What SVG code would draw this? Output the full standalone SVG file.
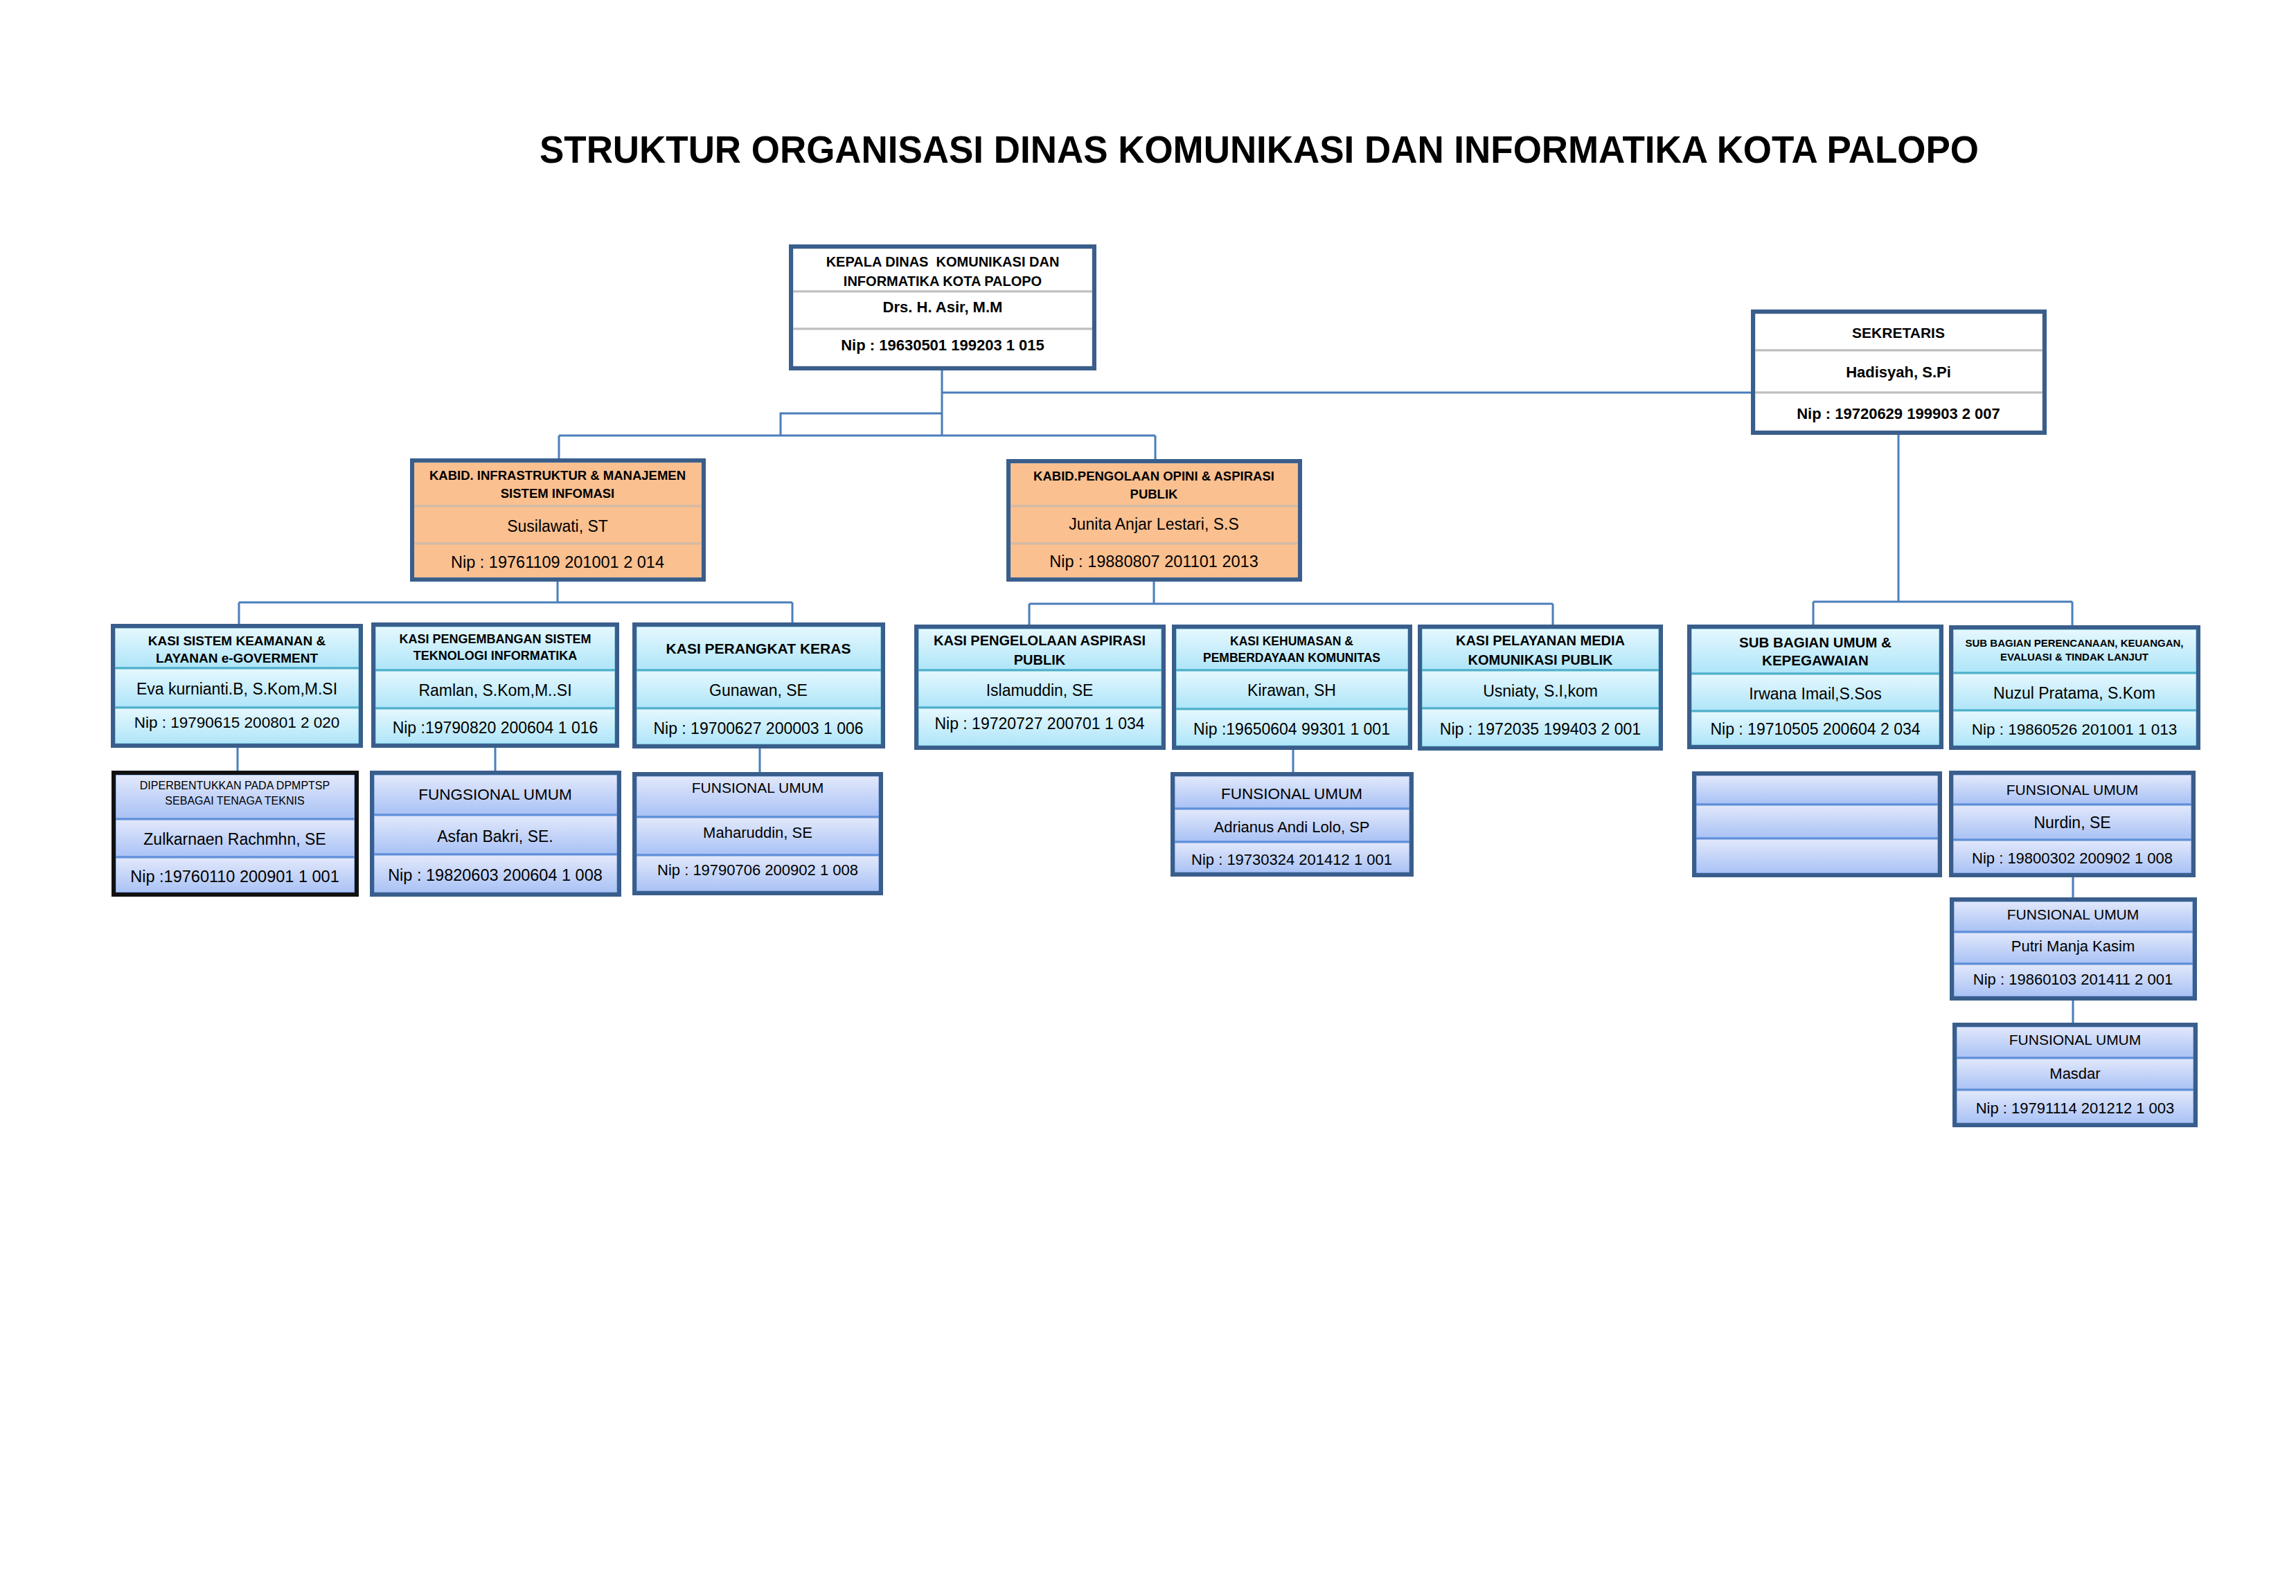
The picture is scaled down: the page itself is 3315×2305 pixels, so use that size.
<svg xmlns="http://www.w3.org/2000/svg" width="3315" height="2305" viewBox="0 0 3315 2305">
<style>
text{font-family:'Liberation Sans',Arial,sans-serif;text-anchor:middle;fill:#000}
.b{font-weight:bold}
.ob{fill:none;stroke:#3a5e8c;stroke-width:6}
.ok{fill:none;stroke:#111;stroke-width:6}
.rw{fill:#fff;stroke:#bfbfbf;stroke-width:3}
.ro{fill:#fac090;stroke:#d2b9a6;stroke-width:3}
.rc{fill:url(#gc);stroke:#4fb0ca;stroke-width:3}
.rb{fill:url(#gb);stroke:#5f8fd8;stroke-width:3}
.cn{fill:none;stroke:#4a7ebb;stroke-width:3}
</style>
<defs>
<linearGradient id="gc" x1="0" y1="0" x2="0" y2="1"><stop offset="0" stop-color="#e6f8fe"/><stop offset="1" stop-color="#aee5f9"/></linearGradient>
<linearGradient id="gb" x1="0" y1="0" x2="0" y2="1"><stop offset="0" stop-color="#e3e9fb"/><stop offset="1" stop-color="#a8c1f5"/></linearGradient>
</defs>
<rect width="3315" height="2305" fill="#fff"/>
<text x="1818" y="235" class="b" font-size="56" textLength="2078" lengthAdjust="spacingAndGlyphs">STRUKTUR ORGANISASI DINAS KOMUNIKASI DAN INFORMATIKA KOTA PALOPO</text>

<g id="connectors">
<path class="cn" d="M1360 535V629M1360 567H2528M1360 597H1127V629M807 629H1668M807 629V662M1668 629V663"/>
<path class="cn" d="M805 840V870M345 870H1144M345 870V901M1144 870V899"/>
<path class="cn" d="M1666 840V872M1486 872H2242M1486 872V902M2242 872V902"/>
<path class="cn" d="M2741 628V869M2618 869H2992M2618 869V902M2992 869V903"/>
<path class="cn" d="M343 1080V1113M715 1080V1113M1097 1081V1115M1867 1083V1115M2993 1267V1296M2993 1445V1477"/>
</g>

<g id="kepala">
<rect class="rw" x="1144" y="358" width="434" height="63"/><rect class="rw" x="1144" y="421" width="434" height="54"/><rect class="rw" x="1144" y="475" width="434" height="55"/>
<rect class="ob" x="1142" y="356" width="438" height="176"/>
<text x="1361" y="385" class="b" font-size="20" xml:space="preserve">KEPALA DINAS  KOMUNIKASI DAN</text>
<text x="1361" y="413" class="b" font-size="20">INFORMATIKA KOTA PALOPO</text>
<text x="1361" y="451" class="b" font-size="22">Drs. H. Asir, M.M</text>
<text x="1361" y="506" class="b" font-size="22">Nip : 19630501 199203 1 015</text>
</g>

<g id="sekretaris">
<rect class="rw" x="2533" y="452" width="417" height="54"/><rect class="rw" x="2533" y="506" width="417" height="61"/><rect class="rw" x="2533" y="567" width="417" height="56"/>
<rect class="ob" x="2531" y="450" width="421" height="175"/>
<text x="2741" y="488" class="b" font-size="21">SEKRETARIS</text>
<text x="2741" y="545" class="b" font-size="22">Hadisyah, S.Pi</text>
<text x="2741" y="605" class="b" font-size="22">Nip : 19720629 199903 2 007</text>
</g>

<g id="kabid-infra">
<rect class="ro" x="597" y="667" width="417" height="64"/><rect class="ro" x="597" y="731" width="417" height="54"/><rect class="ro" x="597" y="785" width="417" height="50"/>
<rect class="ob" x="595" y="665" width="421" height="172"/>
<text x="805" y="693" class="b" font-size="18.5">KABID. INFRASTRUKTUR &amp; MANAJEMEN</text>
<text x="805" y="719" class="b" font-size="18.5">SISTEM INFOMASI</text>
<text x="805" y="768" font-size="23">Susilawati, ST</text>
<text x="805" y="820" font-size="23.5">Nip : 19761109 201001 2 014</text>
</g>

<g id="kabid-opini">
<rect class="ro" x="1458" y="668" width="417" height="63"/><rect class="ro" x="1458" y="731" width="417" height="54"/><rect class="ro" x="1458" y="785" width="417" height="50"/>
<rect class="ob" x="1456" y="666" width="421" height="171"/>
<text x="1666" y="694" class="b" font-size="18.5">KABID.PENGOLAAN OPINI &amp; ASPIRASI</text>
<text x="1666" y="720" class="b" font-size="18.5">PUBLIK</text>
<text x="1666" y="765" font-size="23">Junita Anjar Lestari, S.S</text>
<text x="1666" y="819" font-size="23.5">Nip : 19880807 201101 2013</text>
</g>

<g id="kasi-keamanan">
<rect class="rc" x="165" y="906" width="354" height="59"/><rect class="rc" x="165" y="965" width="354" height="57"/><rect class="rc" x="165" y="1022" width="354" height="53"/>
<rect class="ob" x="163" y="904" width="358" height="173"/>
<text x="342" y="932" class="b" font-size="19">KASI SISTEM KEAMANAN &amp;</text>
<text x="342" y="957" class="b" font-size="19">LAYANAN e-GOVERMENT</text>
<text x="342" y="1003" font-size="23">Eva kurnianti.B, S.Kom,M.SI</text>
<text x="342" y="1051" font-size="22.5">Nip : 19790615 200801 2 020</text>
</g>

<g id="kasi-pengembangan">
<rect class="rc" x="541" y="904" width="348" height="64"/><rect class="rc" x="541" y="968" width="348" height="55"/><rect class="rc" x="541" y="1023" width="348" height="52"/>
<rect class="ob" x="539" y="902" width="352" height="175"/>
<text x="715" y="929" class="b" font-size="18">KASI PENGEMBANGAN SISTEM</text>
<text x="715" y="953" class="b" font-size="18">TEKNOLOGI INFORMATIKA</text>
<text x="715" y="1005" font-size="23">Ramlan, S.Kom,M..SI</text>
<text x="715" y="1059" font-size="23">Nip :19790820 200604 1 016</text>
</g>

<g id="kasi-perangkat">
<rect class="rc" x="918" y="904" width="355" height="64"/><rect class="rc" x="918" y="968" width="355" height="55"/><rect class="rc" x="918" y="1023" width="355" height="53"/>
<rect class="ob" x="916" y="902" width="359" height="176"/>
<text x="1095" y="944" class="b" font-size="21">KASI PERANGKAT KERAS</text>
<text x="1095" y="1005" font-size="23">Gunawan, SE</text>
<text x="1095" y="1060" font-size="23">Nip : 19700627 200003 1 006</text>
</g>

<g id="kasi-aspirasi">
<rect class="rc" x="1325" y="907" width="353" height="61"/><rect class="rc" x="1325" y="968" width="353" height="54"/><rect class="rc" x="1325" y="1022" width="353" height="56"/>
<rect class="ob" x="1323" y="905" width="357" height="175"/>
<text x="1501" y="932" class="b" font-size="20">KASI PENGELOLAAN ASPIRASI</text>
<text x="1501" y="960" class="b" font-size="20">PUBLIK</text>
<text x="1501" y="1005" font-size="23">Islamuddin, SE</text>
<text x="1501" y="1053" font-size="23">Nip : 19720727 200701 1 034</text>
</g>

<g id="kasi-kehumasan">
<rect class="rc" x="1697" y="907" width="337" height="61"/><rect class="rc" x="1697" y="968" width="337" height="56"/><rect class="rc" x="1697" y="1024" width="337" height="54"/>
<rect class="ob" x="1695" y="905" width="341" height="175"/>
<text x="1865" y="932" class="b" font-size="17.5">KASI KEHUMASAN &amp;</text>
<text x="1865" y="956" class="b" font-size="17.5">PEMBERDAYAAN KOMUNITAS</text>
<text x="1865" y="1005" font-size="23">Kirawan, SH</text>
<text x="1865" y="1061" font-size="23">Nip :19650604 99301 1 001</text>
</g>

<g id="kasi-pelayanan">
<rect class="rc" x="2052" y="907" width="344" height="61"/><rect class="rc" x="2052" y="968" width="344" height="55"/><rect class="rc" x="2052" y="1023" width="344" height="56"/>
<rect class="ob" x="2050" y="905" width="348" height="176"/>
<text x="2224" y="932" class="b" font-size="20">KASI PELAYANAN MEDIA</text>
<text x="2224" y="960" class="b" font-size="20">KOMUNIKASI PUBLIK</text>
<text x="2224" y="1006" font-size="23">Usniaty, S.I,kom</text>
<text x="2224" y="1061" font-size="23">Nip : 1972035 199403 2 001</text>
</g>

<g id="subbag-umum">
<rect class="rc" x="2441" y="907" width="360" height="66"/><rect class="rc" x="2441" y="973" width="360" height="54"/><rect class="rc" x="2441" y="1027" width="360" height="50"/>
<rect class="ob" x="2439" y="905" width="364" height="174"/>
<text x="2621" y="935" class="b" font-size="20.5">SUB BAGIAN UMUM &amp;</text>
<text x="2621" y="961" class="b" font-size="20.5">KEPEGAWAIAN</text>
<text x="2621" y="1010" font-size="23">Irwana Imail,S.Sos</text>
<text x="2621" y="1061" font-size="23">Nip : 19710505 200604 2 034</text>
</g>

<g id="subbag-perencanaan">
<rect class="rc" x="2819" y="908" width="353" height="64"/><rect class="rc" x="2819" y="972" width="353" height="54"/><rect class="rc" x="2819" y="1026" width="353" height="52"/>
<rect class="ob" x="2817" y="906" width="357" height="174"/>
<text x="2995" y="934" class="b" font-size="15">SUB BAGIAN PERENCANAAN, KEUANGAN,</text>
<text x="2995" y="954" class="b" font-size="15">EVALUASI &amp; TINDAK LANJUT</text>
<text x="2995" y="1009" font-size="23">Nuzul Pratama, S.Kom</text>
<text x="2995" y="1061" font-size="22.5">Nip : 19860526 201001 1 013</text>
</g>

<g id="dpmptsp">
<rect class="rb" x="166" y="1118" width="347" height="65"/><rect class="rb" x="166" y="1183" width="347" height="55"/><rect class="rb" x="166" y="1238" width="347" height="52"/>
<rect class="ok" x="164" y="1116" width="351" height="176"/>
<text x="339" y="1140" font-size="16">DIPERBENTUKKAN PADA DPMPTSP</text>
<text x="339" y="1162" font-size="16">SEBAGAI TENAGA TEKNIS</text>
<text x="339" y="1220" font-size="23">Zulkarnaen Rachmhn, SE</text>
<text x="339" y="1274" font-size="23.5">Nip :19760110 200901 1 001</text>
</g>

<g id="fungsional-asfan">
<rect class="rb" x="539" y="1118" width="353" height="59"/><rect class="rb" x="539" y="1177" width="353" height="57"/><rect class="rb" x="539" y="1234" width="353" height="56"/>
<rect class="ob" x="537" y="1116" width="357" height="176"/>
<text x="715" y="1155" font-size="22.5">FUNGSIONAL UMUM</text>
<text x="715" y="1216" font-size="23">Asfan Bakri, SE.</text>
<text x="715" y="1272" font-size="23.5">Nip : 19820603 200604 1 008</text>
</g>

<g id="fungsional-maharuddin">
<rect class="rb" x="918" y="1120" width="352" height="60"/><rect class="rb" x="918" y="1180" width="352" height="55"/><rect class="rb" x="918" y="1235" width="352" height="53"/>
<rect class="ob" x="916" y="1118" width="356" height="172"/>
<text x="1094" y="1145" font-size="21">FUNSIONAL UMUM</text>
<text x="1094" y="1210" font-size="22">Maharuddin, SE</text>
<text x="1094" y="1264" font-size="22">Nip : 19790706 200902 1 008</text>
</g>

<g id="fungsional-adrianus">
<rect class="rb" x="1695" y="1120" width="341" height="48"/><rect class="rb" x="1695" y="1168" width="341" height="48"/><rect class="rb" x="1695" y="1216" width="341" height="45"/>
<rect class="ob" x="1693" y="1118" width="345" height="145"/>
<text x="1865" y="1154" font-size="22.5">FUNSIONAL UMUM</text>
<text x="1865" y="1202" font-size="22">Adrianus Andi Lolo, SP</text>
<text x="1865" y="1249" font-size="22">Nip : 19730324 201412 1 001</text>
</g>

<g id="kosong">
<rect class="rb" x="2448" y="1119" width="351" height="43"/><rect class="rb" x="2448" y="1162" width="351" height="49"/><rect class="rb" x="2448" y="1211" width="351" height="51"/>
<rect class="ob" x="2446" y="1117" width="355" height="147"/>
</g>

<g id="fungsional-nurdin">
<rect class="rb" x="2819" y="1118" width="346" height="44"/><rect class="rb" x="2819" y="1162" width="346" height="51"/><rect class="rb" x="2819" y="1213" width="346" height="49"/>
<rect class="ob" x="2817" y="1116" width="350" height="148"/>
<text x="2992" y="1148" font-size="21">FUNSIONAL UMUM</text>
<text x="2992" y="1196" font-size="23">Nurdin, SE</text>
<text x="2992" y="1247" font-size="22">Nip : 19800302 200902 1 008</text>
</g>

<g id="fungsional-putri">
<rect class="rb" x="2820" y="1301" width="347" height="45"/><rect class="rb" x="2820" y="1346" width="347" height="46"/><rect class="rb" x="2820" y="1392" width="347" height="48"/>
<rect class="ob" x="2818" y="1299" width="351" height="143"/>
<text x="2993" y="1328" font-size="21">FUNSIONAL UMUM</text>
<text x="2993" y="1374" font-size="22">Putri Manja Kasim</text>
<text x="2993" y="1422" font-size="22">Nip : 19860103 201411 2 001</text>
</g>

<g id="fungsional-masdar">
<rect class="rb" x="2824" y="1482" width="344" height="46"/><rect class="rb" x="2824" y="1528" width="344" height="46"/><rect class="rb" x="2824" y="1574" width="344" height="49"/>
<rect class="ob" x="2822" y="1480" width="348" height="145"/>
<text x="2996" y="1509" font-size="21">FUNSIONAL UMUM</text>
<text x="2996" y="1558" font-size="22">Masdar</text>
<text x="2996" y="1608" font-size="22">Nip : 19791114 201212 1 003</text>
</g>
</svg>
